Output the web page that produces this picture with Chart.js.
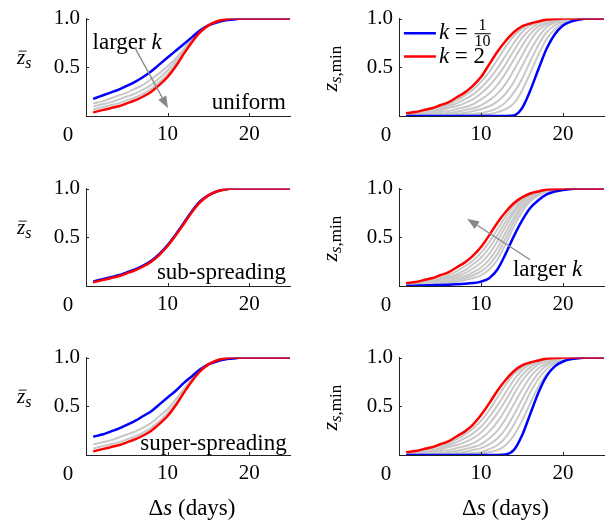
<!DOCTYPE html>
<html>
<head>
<meta charset="utf-8">
<script src="https://cdn.jsdelivr.net/npm/chart.js@4.4.1/dist/chart.umd.min.js"></script>
<style>
  html, body { margin: 0; padding: 0; background: #fff; }
  #wrap { position: relative; width: 609px; height: 522px; overflow: hidden; }
  canvas { position: absolute; }
</style>
</head>
<body>
<div id="wrap">
  <canvas id="uniL" width="300" height="150" style="left:0;top:0"></canvas>
  <canvas id="uniR" width="309" height="150" style="left:300px;top:0"></canvas>
  <canvas id="subL" width="300" height="150" style="left:0;top:170px"></canvas>
  <canvas id="subR" width="309" height="150" style="left:300px;top:170px"></canvas>
  <canvas id="supL" width="300" height="183" style="left:0;top:339px"></canvas>
  <canvas id="supR" width="309" height="183" style="left:300px;top:339px"></canvas>
</div>
<script>
// ---- data ----
const days = [1,2,3,4,5,6,7,8,9,10,11,12,13,14,15,16,17,18,19,20,21,22,23,24,25];
const xTicks = [0, 10, 20];
const yTicks = [0.5, 1.0];

// mean z, uniform
const uniMeanBlue = [0.18,0.21,0.24,0.27,0.31,0.35,0.40,0.46,0.53,0.60,0.67,0.74,0.81,0.88,0.93,0.96,0.98,0.99,1,1,1,1,1,1,1];
const uniMeanRed  = [0.04,0.06,0.08,0.10,0.13,0.16,0.20,0.25,0.32,0.40,0.51,0.64,0.76,0.86,0.93,0.97,0.99,1,1,1,1,1,1,1,1];
const uniMeanGray = [
  [0.07,0.09,0.11,0.13,0.16,0.19,0.23,0.28,0.35,0.43,0.53,0.65,0.77,0.87,0.93,0.97,0.99,1,1,1,1,1,1,1,1],
  [0.10,0.12,0.14,0.17,0.20,0.23,0.27,0.32,0.39,0.47,0.56,0.67,0.78,0.87,0.93,0.97,0.99,1,1,1,1,1,1,1,1],
  [0.13,0.15,0.18,0.21,0.24,0.28,0.32,0.38,0.44,0.51,0.59,0.69,0.79,0.87,0.93,0.97,0.99,1,1,1,1,1,1,1,1]
];
// min z, uniform
const uniMinBlue = [0,0,0,0,0,0,0,0,0,0,0,0,0,0.005,0.08,0.26,0.48,0.69,0.84,0.93,0.97,0.99,1,1,1];
const uniMinRed  = [0.03,0.04,0.06,0.08,0.11,0.14,0.19,0.24,0.31,0.40,0.53,0.66,0.77,0.86,0.92,0.95,0.97,0.99,0.995,1,1,1,1,1,1];
const uniMinGray = [
  [0.02,0.03,0.05,0.07,0.09,0.12,0.16,0.21,0.27,0.35,0.45,0.58,0.71,0.82,0.90,0.95,0.97,0.99,1,1,1,1,1,1,1],
  [0.01,0.02,0.04,0.05,0.07,0.10,0.13,0.17,0.22,0.29,0.38,0.49,0.62,0.75,0.86,0.93,0.96,0.98,0.99,1,1,1,1,1,1],
  [0.01,0.02,0.03,0.04,0.06,0.08,0.10,0.13,0.17,0.23,0.31,0.41,0.53,0.67,0.80,0.89,0.95,0.98,0.99,1,1,1,1,1,1],
  [0.005,0.01,0.02,0.03,0.04,0.05,0.07,0.09,0.12,0.17,0.23,0.32,0.44,0.58,0.72,0.84,0.92,0.96,0.98,0.99,1,1,1,1,1],
  [0,0.005,0.01,0.015,0.02,0.03,0.04,0.06,0.08,0.11,0.16,0.23,0.33,0.47,0.62,0.77,0.88,0.94,0.97,0.99,1,1,1,1,1],
  [0,0,0,0.005,0.01,0.015,0.02,0.03,0.05,0.07,0.10,0.15,0.23,0.35,0.51,0.67,0.81,0.91,0.96,0.98,0.99,1,1,1,1],
  [0,0,0,0,0,0.005,0.01,0.015,0.02,0.03,0.05,0.08,0.14,0.24,0.38,0.56,0.73,0.86,0.93,0.97,0.99,1,1,1,1],
  [0,0,0,0,0,0,0,0.005,0.01,0.015,0.02,0.04,0.07,0.13,0.26,0.44,0.63,0.79,0.89,0.95,0.98,0.99,1,1,1]
];

// mean z, sub-spreading
const subMeanBlue = [0.05,0.07,0.09,0.11,0.14,0.17,0.21,0.26,0.33,0.42,0.53,0.65,0.77,0.87,0.93,0.97,0.99,1,1,1,1,1,1,1,1];
const subMeanRed  = [0.04,0.06,0.08,0.10,0.13,0.16,0.20,0.25,0.32,0.41,0.52,0.64,0.76,0.86,0.93,0.97,0.99,1,1,1,1,1,1,1,1];
const subMeanGray = [];
// min z, sub-spreading
const subMinBlue = [0,0.003,0.005,0.008,0.01,0.013,0.017,0.022,0.03,0.045,0.08,0.17,0.33,0.51,0.67,0.80,0.88,0.94,0.97,0.985,0.995,1,1,1,1];
const subMinRed  = [0.03,0.04,0.06,0.08,0.11,0.14,0.19,0.24,0.31,0.40,0.52,0.65,0.76,0.85,0.91,0.95,0.97,0.99,0.995,1,1,1,1,1,1];
const subMinGray = [
  [0.02,0.03,0.05,0.06,0.08,0.11,0.15,0.20,0.26,0.34,0.45,0.58,0.71,0.82,0.90,0.95,0.97,0.99,1,1,1,1,1,1,1],
  [0.02,0.03,0.04,0.05,0.07,0.09,0.12,0.16,0.22,0.29,0.39,0.52,0.66,0.78,0.88,0.94,0.97,0.99,1,1,1,1,1,1,1],
  [0.01,0.02,0.03,0.04,0.06,0.08,0.10,0.13,0.18,0.24,0.33,0.46,0.61,0.75,0.86,0.93,0.96,0.98,0.99,1,1,1,1,1,1],
  [0.01,0.015,0.02,0.03,0.04,0.06,0.08,0.10,0.14,0.19,0.27,0.39,0.55,0.70,0.83,0.91,0.95,0.98,0.99,1,1,1,1,1,1],
  [0.005,0.01,0.015,0.02,0.03,0.04,0.06,0.08,0.11,0.15,0.22,0.33,0.49,0.66,0.80,0.89,0.94,0.97,0.99,1,1,1,1,1,1],
  [0.005,0.008,0.01,0.015,0.02,0.03,0.04,0.06,0.08,0.11,0.17,0.27,0.43,0.61,0.76,0.87,0.93,0.97,0.99,1,1,1,1,1,1]
];

// mean z, super-spreading
const supMeanBlue = [0.19,0.21,0.24,0.27,0.31,0.35,0.40,0.45,0.52,0.59,0.66,0.74,0.81,0.88,0.93,0.96,0.98,0.99,1,1,1,1,1,1,1];
const supMeanRed  = [0.04,0.06,0.08,0.10,0.13,0.16,0.20,0.25,0.32,0.40,0.51,0.64,0.76,0.86,0.93,0.97,0.99,1,1,1,1,1,1,1,1];
const supMeanGray = [
  [0.07,0.09,0.11,0.13,0.16,0.19,0.23,0.28,0.35,0.43,0.53,0.65,0.77,0.87,0.93,0.97,0.99,1,1,1,1,1,1,1,1],
  [0.11,0.13,0.15,0.18,0.21,0.24,0.28,0.33,0.40,0.47,0.57,0.68,0.78,0.87,0.93,0.97,0.99,1,1,1,1,1,1,1,1]
];
// min z, super-spreading
const supMinBlue = [0,0,0,0,0,0,0,0,0,0,0,0,0.005,0.05,0.20,0.42,0.64,0.81,0.91,0.96,0.985,0.995,1,1,1];
const supMinRed  = [0.03,0.04,0.06,0.08,0.11,0.14,0.19,0.24,0.31,0.41,0.53,0.66,0.77,0.86,0.92,0.95,0.97,0.99,0.995,1,1,1,1,1,1];
const supMinGray = [
  [0.02,0.03,0.05,0.07,0.09,0.12,0.16,0.21,0.27,0.35,0.46,0.59,0.72,0.83,0.90,0.95,0.97,0.99,1,1,1,1,1,1,1],
  [0.01,0.02,0.04,0.05,0.07,0.10,0.13,0.17,0.22,0.29,0.39,0.51,0.64,0.77,0.87,0.93,0.96,0.98,0.99,1,1,1,1,1,1],
  [0.01,0.02,0.03,0.04,0.06,0.08,0.10,0.13,0.17,0.23,0.32,0.43,0.56,0.70,0.82,0.90,0.95,0.98,0.99,1,1,1,1,1,1],
  [0.005,0.01,0.02,0.03,0.04,0.05,0.07,0.09,0.12,0.17,0.24,0.34,0.47,0.62,0.76,0.86,0.93,0.96,0.98,0.99,1,1,1,1,1],
  [0,0.005,0.01,0.015,0.02,0.03,0.04,0.06,0.08,0.11,0.17,0.25,0.37,0.52,0.67,0.80,0.89,0.94,0.97,0.99,1,1,1,1,1],
  [0,0,0,0.005,0.01,0.015,0.02,0.03,0.05,0.07,0.11,0.17,0.27,0.41,0.57,0.72,0.84,0.92,0.96,0.98,0.99,1,1,1,1],
  [0,0,0,0,0,0.005,0.01,0.015,0.02,0.03,0.06,0.10,0.18,0.31,0.47,0.64,0.78,0.88,0.94,0.97,0.99,1,1,1,1],
  [0,0,0,0,0,0,0,0.005,0.01,0.015,0.03,0.05,0.10,0.20,0.35,0.53,0.70,0.83,0.91,0.96,0.98,0.99,1,1,1]
];

// ---- drawing helpers ----
const SERIF = '"Liberation Serif", "Times New Roman", serif';
const BLUE = '#0000ff', RED = '#ff0000', GRAY = '#c8c8c8';

function pts(vals) {
  return days.map((d, i) => ({x: d, y: vals[i]}));
}

function makeSets(blue, red, grays) {
  const sets = [
    {data: pts(red), borderColor: RED, borderWidth: 2.5},
    {data: pts(blue), borderColor: BLUE, borderWidth: 2.5}
  ];
  grays.forEach(g => sets.push({data: pts(g), borderColor: GRAY, borderWidth: 2}));
  return sets;
}

// draw text made of upright/italic pieces
function mixed(ctx, parts, x, y, align, size) {
  ctx.textBaseline = 'middle';
  ctx.textAlign = 'left';
  let w = 0;
  parts.forEach(p => { ctx.font = (p[1] ? 'italic ' : '') + size + 'px ' + SERIF; w += ctx.measureText(p[0]).width; });
  let cx = align === 'right' ? x - w : (align === 'center' ? x - w / 2 : x);
  parts.forEach(p => {
    ctx.font = (p[1] ? 'italic ' : '') + size + 'px ' + SERIF;
    ctx.fillText(p[0], cx, y);
    cx += ctx.measureText(p[0]).width;
  });
}

function arrow(ctx, x1, y1, x2, y2) {
  const ang = Math.atan2(y2 - y1, x2 - x1);
  const hl = 12, hw = 4.5;
  ctx.strokeStyle = '#888';
  ctx.fillStyle = '#888';
  ctx.lineWidth = 1.3;
  ctx.beginPath();
  ctx.moveTo(x1, y1);
  ctx.lineTo(x2 - hl * Math.cos(ang), y2 - hl * Math.sin(ang));
  ctx.stroke();
  ctx.beginPath();
  ctx.moveTo(x2, y2);
  ctx.lineTo(x2 - hl * Math.cos(ang) + hw * Math.sin(ang), y2 - hl * Math.sin(ang) - hw * Math.cos(ang));
  ctx.lineTo(x2 - hl * Math.cos(ang) - hw * Math.sin(ang), y2 - hl * Math.sin(ang) + hw * Math.cos(ang));
  ctx.closePath();
  ctx.fill();
}

// extras: inner tick marks, shifted "0", axis titles, notes
function extras(cfg) {
  return {
    id: 'extras',
    afterDraw(chart) {
      const ctx = chart.ctx, xs = chart.scales.x, ys = chart.scales.y, a = chart.chartArea;
      ctx.save();
      ctx.strokeStyle = '#222';
      ctx.lineWidth = 1;
      yTicks.forEach(v => {
        const py = Math.round(ys.getPixelForValue(v)) + 0.5;
        ctx.beginPath(); ctx.moveTo(a.left, py); ctx.lineTo(a.left + 3, py); ctx.stroke();
      });
      xTicks.forEach(v => {
        if (v === 0) return;
        const px = Math.round(xs.getPixelForValue(v)) + 0.5;
        ctx.beginPath(); ctx.moveTo(px, a.bottom); ctx.lineTo(px, a.bottom - 3); ctx.stroke();
      });
      ctx.fillStyle = '#000';
      // "0" label sits left of the corner
      ctx.font = '21px ' + SERIF;
      ctx.textAlign = 'center';
      ctx.textBaseline = 'middle';
      ctx.fillText('0', xs.getPixelForValue(0) + cfg.zeroShift, a.bottom + 19);

      // y title
      if (cfg.left) {
        const bx = 17, by = a.top + 45;
        ctx.textAlign = 'left';
        ctx.textBaseline = 'alphabetic';
        ctx.font = 'italic 21px ' + SERIF;
        ctx.fillText('z', bx, by);
        const zw = ctx.measureText('z').width;
        ctx.beginPath(); ctx.moveTo(bx + 1.5, a.top + 32.5); ctx.lineTo(bx + zw + 1.5, a.top + 32.5); ctx.stroke();
        ctx.font = 'italic 16px ' + SERIF;
        ctx.fillText('s', bx + zw, by + 4);
      } else {
        ctx.save();
        ctx.translate(37, a.top + 73);
        ctx.rotate(-Math.PI / 2);
        ctx.textAlign = 'left';
        ctx.textBaseline = 'alphabetic';
        ctx.font = 'italic 22px ' + SERIF;
        ctx.fillText('z', 0, 0);
        let w = ctx.measureText('z').width;
        ctx.font = 'italic 17px ' + SERIF;
        ctx.fillText('s', w, 4);
        w += ctx.measureText('s').width;
        ctx.font = '17px ' + SERIF;
        ctx.fillText(',min', w, 4);
        ctx.restore();
      }

      // x title on bottom row
      if (cfg.bottom) {
        ctx.fillStyle = '#000';
        mixed(ctx, [['\u0394', false], ['s', true], [' (days)', false]], (a.left + a.right) / 2 + 4, a.bottom + 54, 'center', 23);
      }
      if (cfg.notes) cfg.notes(ctx, xs, ys);
      ctx.restore();
    }
  };
}

function panel(id, datasets, cfg) {
  const el = document.getElementById(id);
  const yWidth = cfg.left ? 86 : 99;
  const padRight = cfg.left ? 10 : 5;
  return new Chart(el, {
    type: 'line',
    data: {datasets: datasets},
    options: {
      responsive: false,
      animation: false,
      events: [],
      layout: {padding: {top: 17, right: padRight, left: 0, bottom: 0}},
      elements: {
        point: {radius: 0},
        line: {cubicInterpolationMode: 'monotone', fill: false, borderCapStyle: 'round', borderJoinStyle: 'round'}
      },
      plugins: {legend: {display: false}, tooltip: {enabled: false}},
      scales: {
        x: {
          type: 'linear', min: 0, max: 25,
          afterBuildTicks: s => { s.ticks = xTicks.map(v => ({value: v})); },
          afterFit: s => { s.height = el.height - 116; },
          grid: {display: false, drawTicks: false},
          border: {display: true, color: '#222', width: 1},
          ticks: {
            color: '#000', padding: 6, maxRotation: 0, autoSkip: false,
            font: {family: SERIF, size: 21},
            callback: v => (v === 0 ? '' : String(v))
          }
        },
        y: {
          type: 'linear', min: 0, max: 1,
          afterBuildTicks: s => { s.ticks = yTicks.map(v => ({value: v})); },
          afterFit: s => { s.width = yWidth; },
          grid: {display: false, drawTicks: false},
          border: {display: true, color: '#222', width: 1},
          ticks: {
            color: '#000', padding: 6,
            font: {family: SERIF, size: 21},
            callback: v => v.toFixed(1)
          }
        }
      }
    },
    plugins: [extras(cfg)]
  });
}

// ---- panels ----
panel('uniL', makeSets(uniMeanBlue, uniMeanRed, uniMeanGray), {
  left: true, zeroShift: -18,
  notes: (ctx, xs, ys) => {
    ctx.fillStyle = '#000';
    mixed(ctx, [['larger ', false], ['k', true]], xs.getPixelForValue(0.8), ys.getPixelForValue(0.75), 'left', 23);
    mixed(ctx, [['uniform', false]], xs.getPixelForValue(24.5), ys.getPixelForValue(0.13), 'right', 23);
    arrow(ctx, xs.getPixelForValue(6.0), ys.getPixelForValue(0.70), xs.getPixelForValue(10.05), ys.getPixelForValue(0.08));
  }
});
panel('uniR', makeSets(uniMinBlue, uniMinRed, uniMinGray), {
  left: false, zeroShift: -13,
  notes: (ctx, xs, ys) => {
    const x0 = xs.getPixelForValue(0.6), x1 = xs.getPixelForValue(4.5);
    const yb = ys.getPixelForValue(0.85), yr = ys.getPixelForValue(0.61);
    ctx.lineWidth = 2.5;
    ctx.strokeStyle = BLUE;
    ctx.beginPath(); ctx.moveTo(x0, yb); ctx.lineTo(x1, yb); ctx.stroke();
    ctx.strokeStyle = RED;
    ctx.beginPath(); ctx.moveTo(x0, yr); ctx.lineTo(x1, yr); ctx.stroke();
    ctx.fillStyle = '#000';
    mixed(ctx, [['k', true], [' = ', false]], x1 + 3, yb, 'left', 23);
    ctx.font = 'italic 23px ' + SERIF;
    let w = ctx.measureText('k').width;
    ctx.font = '23px ' + SERIF;
    w += ctx.measureText(' = ').width;
    const fx = x1 + 3 + w + 1;
    ctx.font = '16px ' + SERIF;
    const fw = ctx.measureText('10').width;
    ctx.textAlign = 'center';
    ctx.textBaseline = 'alphabetic';
    ctx.fillText('1', fx + fw / 2, yb - 3);
    ctx.fillText('10', fx + fw / 2, yb + 13);
    ctx.strokeStyle = '#000';
    ctx.lineWidth = 1;
    ctx.beginPath(); ctx.moveTo(fx, yb + 0.5); ctx.lineTo(fx + fw, yb + 0.5); ctx.stroke();
    mixed(ctx, [['k', true], [' = 2', false]], x1 + 3, yr, 'left', 23);
  }
});
panel('subL', makeSets(subMeanBlue, subMeanRed, subMeanGray), {
  left: true, zeroShift: -18,
  notes: (ctx, xs, ys) => {
    ctx.fillStyle = '#000';
    mixed(ctx, [['sub-spreading', false]], xs.getPixelForValue(24.5), ys.getPixelForValue(0.13), 'right', 23);
  }
});
panel('subR', makeSets(subMinBlue, subMinRed, subMinGray), {
  left: false, zeroShift: -13,
  notes: (ctx, xs, ys) => {
    arrow(ctx, xs.getPixelForValue(16.0), ys.getPixelForValue(0.27), xs.getPixelForValue(8.3), ys.getPixelForValue(0.69));
    ctx.fillStyle = '#000';
    mixed(ctx, [['larger ', false], ['k', true]], xs.getPixelForValue(13.9), ys.getPixelForValue(0.16), 'left', 23);
  }
});
panel('supL', makeSets(supMeanBlue, supMeanRed, supMeanGray), {
  left: true, bottom: true, zeroShift: -18,
  notes: (ctx, xs, ys) => {
    ctx.fillStyle = '#000';
    mixed(ctx, [['super-spreading', false]], xs.getPixelForValue(24.6), ys.getPixelForValue(0.11), 'right', 23);
  }
});
panel('supR', makeSets(supMinBlue, supMinRed, supMinGray), {
  left: false, bottom: true, zeroShift: -13
});
</script>
</body>
</html>
